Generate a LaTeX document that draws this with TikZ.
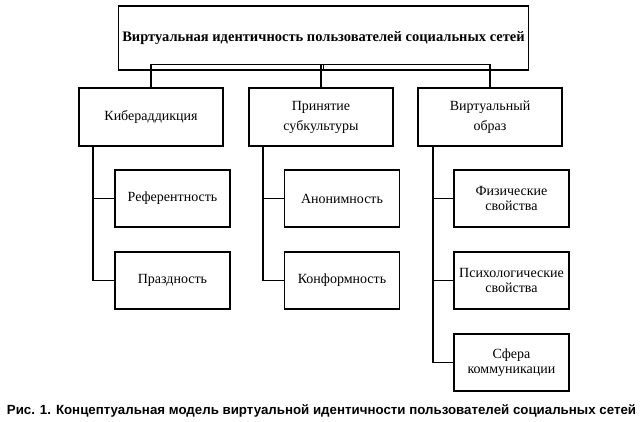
\documentclass[tikz,border=0pt]{standalone}
\usepackage{fontspec}
\setmainfont{Liberation Serif}
\newfontfamily\capfont{Liberation Sans}

\begin{document}
\begin{tikzpicture}[x=1pt,y=-1pt,line width=1.1pt,
    mainbox/.style={draw,align=center,minimum width=409pt,minimum height=64pt,
        font=\fontsize{14.5}{16}\selectfont\bfseries},
    groupbox/.style={draw,align=center,minimum width=144pt,minimum height=58pt,
        font=\fontsize{14}{20}\selectfont},
    itembox/.style={draw,align=center,minimum width=115pt,minimum height=57pt,
        font=\fontsize{14}{15}\selectfont}]
\useasboundingbox (0,0) rectangle (640,421);
% top of the tree
\node [mainbox] (ident) at (323.5,38) {Виртуальная идентичность пользователей социальных сетей};
\node [groupbox] (kiber) at (151,117) {Кибераддикция};
\node [groupbox] (subcult) at (321,117) {Принятие\\ субкультуры};
\node [groupbox] (obraz) at (490,117) {Виртуальный\\ образ};
\coordinate (fork) at ([yshift=6pt]ident.south);
\draw (ident.south) -- (fork);
\draw (fork) -| (kiber.north);
\draw (fork) -| (subcult.north);
\draw (fork) -| (obraz.north);
% first group
\node [itembox] (refer) at (172.5,198.5) {Референтность};
\node [itembox] (prazd) at (172.5,280.5) {Праздность};
\draw ([xshift=-58pt]kiber.south) |- (prazd.west);
\draw ([xshift=-58pt]kiber.south) |- (refer.west);
% second group
\node [itembox] (anonim) at (342,198.5) {Анонимность};
\node [itembox] (konform) at (342,280.5) {Конформность};
\draw ([xshift=-58pt]subcult.south) |- (konform.west);
\draw ([xshift=-58pt]subcult.south) |- (anonim.west);
% third group
\node [itembox] (fiz) at (511.5,198.5) {Физические\\ свойства};
\node [itembox] (psych) at (511.5,280.5) {Психологические\\ свойства};
\node [itembox] (sfera) at (511.5,362.5) {Сфера\\ коммуникации};
\draw ([xshift=-57pt]obraz.south) |- (sfera.west);
\draw ([xshift=-57pt]obraz.south) |- (psych.west);
\draw ([xshift=-57pt]obraz.south) |- (fiz.west);
% caption
\node [font=\capfont\fontsize{13.3}{16}\selectfont\bfseries] (caption) at (321.5,411)
    {Рис. 1. Концептуальная модель виртуальной идентичности пользователей социальных сетей};
\end{tikzpicture}
\end{document}
